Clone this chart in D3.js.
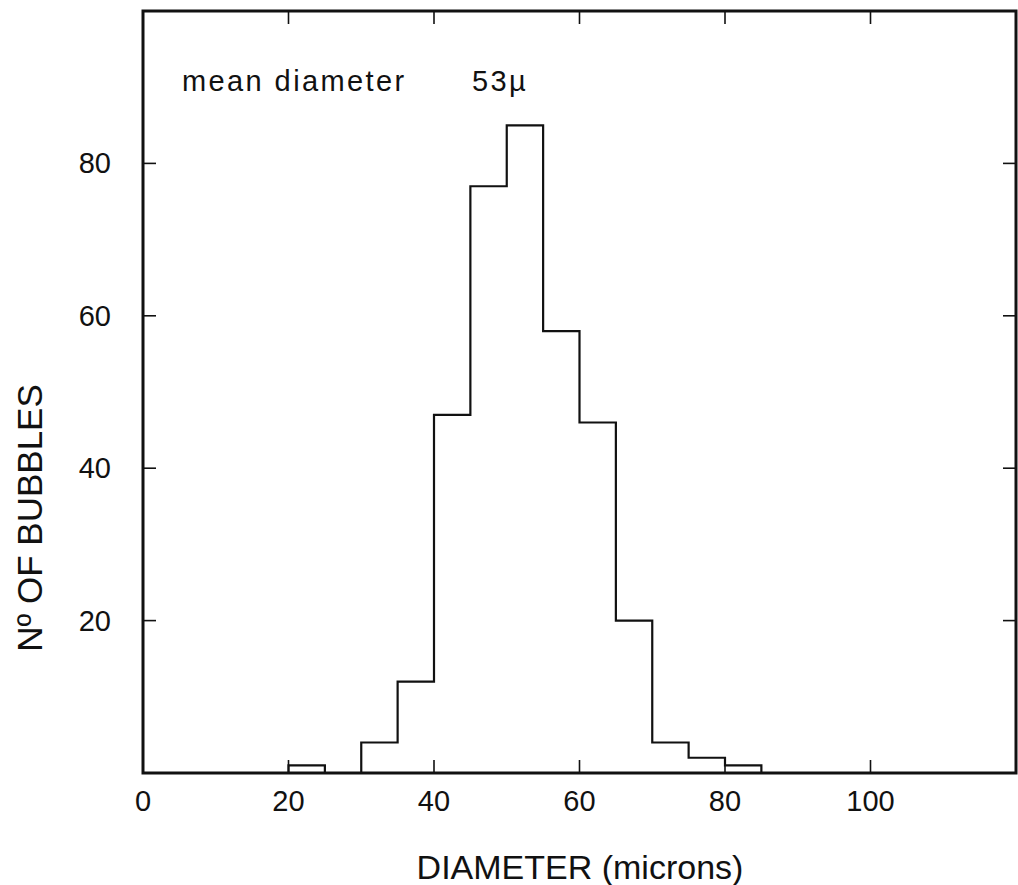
<!DOCTYPE html>
<html>
<head>
<meta charset="utf-8">
<script src="https://cdn.jsdelivr.net/npm/d3@7"></script>
<style>
  body { margin: 0; background: #fff; }
  svg { display: block; }
  text { font-family: "Liberation Sans", Arial, sans-serif; fill: #111; }
</style>
</head>
<body>
<svg width="1018" height="885"></svg>
<script>
// histogram: 5 micron bins, start of each bin and number of bubbles
var binStart = [20, 25, 30, 35, 40, 45, 50, 55, 60, 65, 70, 75, 80];
var counts   = [1, 0, 4, 12, 47, 77, 85, 58, 46, 20, 4, 2, 1];
var binWidth = 5;

var xTicks = [0, 20, 40, 60, 80, 100];
var yTicks = [20, 40, 60, 80];

var svg = d3.select("svg");

var x = d3.scaleLinear().domain([0, 120]).range([143, 1016]);
var y = d3.scaleLinear().domain([0, 100]).range([773, 11]);

var ink = "#111";

// outline only (no dividers between neighbouring bins)
var pts = [[binStart[0], 0]];
binStart.forEach((b, i) => {
  pts.push([b, counts[i]]);
  pts.push([b + binWidth, counts[i]]);
});
pts.push([binStart[binStart.length - 1] + binWidth, 0]);

svg.append("path")
  .attr("d", d3.line().x(d => x(d[0])).y(d => y(d[1]))(pts))
  .attr("fill", "none")
  .attr("stroke", ink)
  .attr("stroke-width", 2.2)
  .attr("stroke-linejoin", "miter");

// inward ticks on all four sides
var tickLen = 13;
var tg = svg.append("g").attr("stroke", ink).attr("stroke-width", 1.6);
xTicks.filter(d => d > 0).forEach(d => {
  tg.append("line").attr("x1", x(d)).attr("x2", x(d)).attr("y1", y(0)).attr("y2", y(0) - tickLen);
  tg.append("line").attr("x1", x(d)).attr("x2", x(d)).attr("y1", y(100)).attr("y2", y(100) + tickLen);
});
yTicks.forEach(d => {
  tg.append("line").attr("x1", x(0)).attr("x2", x(0) + tickLen).attr("y1", y(d)).attr("y2", y(d));
  tg.append("line").attr("x1", x(120)).attr("x2", x(120) - tickLen).attr("y1", y(d)).attr("y2", y(d));
});

// frame
svg.append("rect")
  .attr("x", x(0))
  .attr("y", y(100))
  .attr("width", x(120) - x(0))
  .attr("height", y(0) - y(100))
  .attr("fill", "none")
  .attr("stroke", ink)
  .attr("stroke-width", 3);

// tick labels
svg.append("g")
  .selectAll("text")
  .data(xTicks)
  .enter()
  .append("text")
  .attr("x", d => x(d))
  .attr("y", 811)
  .attr("text-anchor", "middle")
  .style("font-size", "29px")
  .text(d => d);

svg.append("g")
  .selectAll("text")
  .data(yTicks)
  .enter()
  .append("text")
  .attr("x", 111)
  .attr("y", d => y(d) + 10)
  .attr("text-anchor", "end")
  .style("font-size", "29px")
  .text(d => d);

// axis titles
svg.append("text")
  .attr("x", 580)
  .attr("y", 879)
  .attr("text-anchor", "middle")
  .style("font-size", "34px")
  .text("DIAMETER (microns)");

svg.append("text")
  .attr("transform", "translate(42,518) rotate(-90)")
  .attr("text-anchor", "middle")
  .style("font-size", "35px")
  .text("Nº OF BUBBLES");

// annotation
var note = svg.append("text")
  .attr("x", 182)
  .attr("y", 91)
  .style("font-size", "29px")
  .style("letter-spacing", "2.4px");
note.append("tspan").text("mean diameter");
note.append("tspan").attr("x", 472).text("53µ");
</script>
</body>
</html>
